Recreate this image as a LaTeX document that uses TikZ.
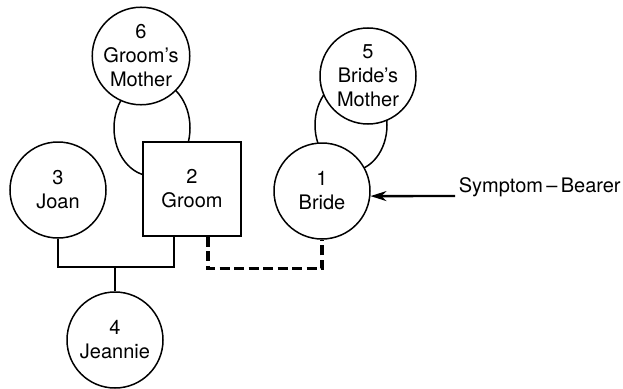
\documentclass[tikz,border=0pt]{standalone}
\usepackage{fontspec}
\setmainfont{TeX Gyre Heros}
\usetikzlibrary{arrows.meta,backgrounds,calc}
\begin{document}
\begin{tikzpicture}[x=1pt,y=-1pt,line width=1.5pt,
  person/.style={circle,draw,fill=white,line width=1.5pt,minimum size=96pt,inner sep=0pt,align=center,
    font=\fontsize{20}{24}\selectfont},
  male/.style={rectangle,draw,fill=white,line width=1.5pt,minimum width=98pt,minimum height=94pt,inner sep=0pt,align=center,
    font=\fontsize{20}{24}\selectfont},
  conflict/.style={line width=3.4pt,dash pattern=on 10pt off 4.5pt},
  pointer/.style={line width=2.4pt,-{Stealth[length=16pt,width=10pt]}},
  lbl/.style={font=\fontsize{20}{24}\selectfont,inner sep=0pt}]
\useasboundingbox (0,0) rectangle (623,388);
\node[person] (gm) at (141,56) {6\\Groom’s\\Mother};
\node[male] (groom) at (192,189) {2\\Groom};
\node[person] (joan) at (58,190) {3\\Joan};
\node[person] (bride) at (322,191) {1\\Bride};
\node[person] (bm) at (368,76) {5\\Bride’s\\Mother};
\node[person] (jeannie) at (115,340) {4\\Jeannie};
\begin{scope}[on background layer]
  \coordinate (loopA) at (152,128);
  \coordinate (loopB) at (351,125);
  \draw[line width=1.5pt] (loopA) ellipse [x radius=38pt, y radius=48pt];
  \draw[line width=1.5pt] (loopB) ellipse [x radius=36pt, y radius=46pt];
\end{scope}
% marriage Joan - Groom
\coordinate (gl) at ([xshift=-18pt]groom.south);
\draw[line width=1.5pt] (joan.south) -- ++(0,28) coordinate (jl) -- (jl -| gl) -- (gl);
\draw[line width=1.5pt] (jeannie.north) -- (jeannie.north |- jl);
% conflictual tie Groom - Bride
\draw[conflict] ([xshift=16pt]groom.south) -- ++(0,32) -| (bride.south);
% symptom bearer
\coordinate (sb) at (455,196);
\draw[pointer] (sb) -- (bride.-6);
\node[lbl,anchor=west] (sbt) at (458,187) {Symptom\,–\,Bearer};
\end{tikzpicture}
\end{document}
